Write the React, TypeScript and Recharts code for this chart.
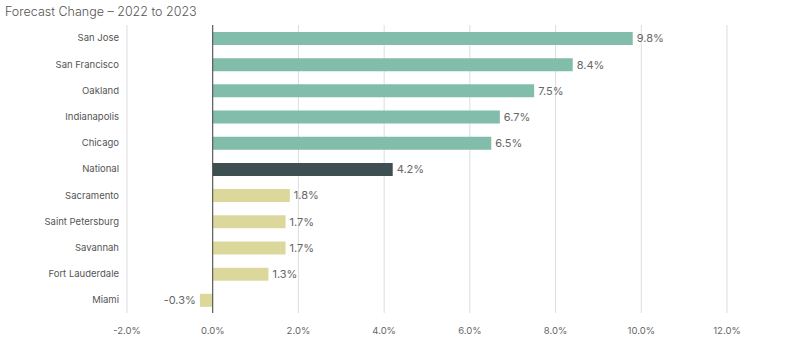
import { BarChart, Bar, XAxis, YAxis, CartesianGrid, Cell, LabelList, ReferenceLine } from 'recharts';

const cities = ['San Jose', 'San Francisco', 'Oakland', 'Indianapolis', 'Chicago', 'National', 'Sacramento', 'Saint Petersburg', 'Savannah', 'Fort Lauderdale', 'Miami'];
const changes = [9.8, 8.4, 7.5, 6.7, 6.5, 4.2, 1.8, 1.7, 1.7, 1.3, -0.3];
const groups = ['top', 'top', 'top', 'top', 'top', 'national', 'bottom', 'bottom', 'bottom', 'bottom', 'bottom'];
const xTicks = [-2, 0, 2, 4, 6, 8, 10, 12];

const groupColors: Record<string, string> = {
  top: '#82bcab',
  national: '#3e4f51',
  bottom: '#dcd89c',
};

const App = () => {
  const data = cities.map((city, i) => ({ city, change: changes[i], group: groups[i] }));

  return (
    <div style={{ position: 'absolute', left: 0, top: 0, width: 800, height: 346, fontFamily: 'Inter, sans-serif' }}>
      <div style={{ position: 'absolute', left: 5, top: 4, fontSize: 12.5, color: '#555', fontWeight: 300 }}>
        Forecast Change – 2022 to 2023
      </div>
      <BarChart
        width={800}
        height={346}
        data={data}
        layout="vertical"
        barSize={13}
        margin={{ top: 25, right: 73, left: 0, bottom: 0 }}
      >
        <CartesianGrid horizontal={false} stroke="#dddddd" />
        <XAxis
          type="number"
          domain={[-2, 12]}
          ticks={xTicks}
          tickFormatter={(v: number) => `${v.toFixed(1)}%`}
          axisLine={false}
          tickLine={false}
          height={33}
          tick={{ fontSize: 9.5, fill: '#666' }}
          tickMargin={8}
        />
        <YAxis
          type="category"
          dataKey="city"
          width={127}
          axisLine={false}
          tickLine={false}
          tick={{ fontSize: 9.5, fill: '#555' }}
        />
        <ReferenceLine x={0} stroke="#444" />
        <Bar dataKey="change" isAnimationActive={false}>
          {data.map((d) => (
            <Cell key={d.city} fill={groupColors[d.group]} />
          ))}
          <LabelList
            dataKey="change"
            position="right"
            offset={4}
            formatter={(v: number) => `${v.toFixed(1)}%`}
            style={{ fontSize: 11, fill: '#666' }}
          />
        </Bar>
      </BarChart>
    </div>
  );
};

export default App;
